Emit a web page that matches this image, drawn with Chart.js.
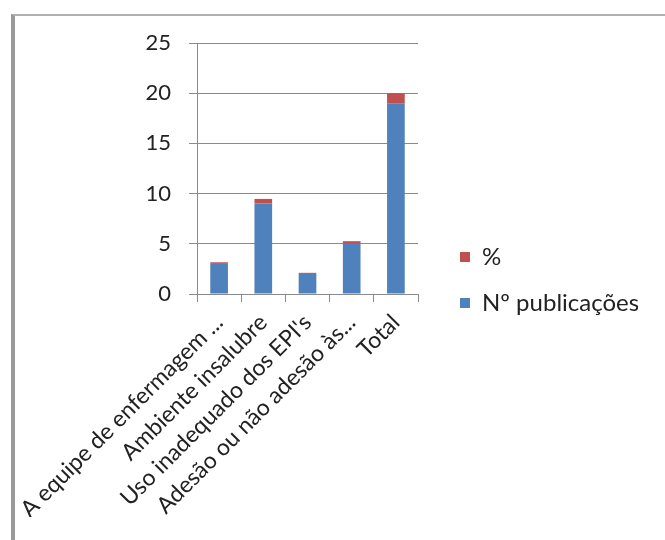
<!DOCTYPE html>
<html>
<head>
<meta charset="utf-8">
<script src="https://cdn.jsdelivr.net/npm/chart.js@4"></script>
<style>
  html, body { margin: 0; padding: 0; background: #fff; }
  #wrap { position: relative; width: 665px; height: 540px; overflow: hidden; }
  #frame {
    position: absolute; left: 11px; top: 14px; right: 0; bottom: 0;
    border-left: 4px solid #9a9a9a; border-top: 2px solid #b0b0b0;
  }
  #grafico { position: absolute; left: 0; top: 0; }
</style>
</head>
<body>
<div id="wrap">
  <div id="frame"></div>
  <canvas id="grafico" width="665" height="540"></canvas>
</div>
<script>
const categorias = [
  "A equipe de enfermagem ...",
  "Ambiente insalubre",
  "Uso inadequado dos EPI's",
  "Adesão ou não adesão às...",
  "Total"
];
const publicacoes = [3, 9, 2, 5, 19];
const percentual = [0.16, 0.47, 0.11, 0.26, 1.0];
const ticksY = [0, 5, 10, 15, 20, 25];

const fonte = "Lato, 'Open Sans', sans-serif";

// a legenda fica um pouco afastada da área do gráfico
const afastaLegenda = {
  id: "afastaLegenda",
  afterLayout(chart) {
    chart.legend.left += 20;
    chart.legend.right += 20;
  }
};

new Chart(document.getElementById("grafico"), {
  type: "bar",
  data: {
    labels: categorias,
    datasets: [
      {
        label: "Nº publicações",
        data: publicacoes,
        backgroundColor: "#4f81bd"
      },
      {
        label: "%",
        data: percentual,
        backgroundColor: "#c0504d"
      }
    ]
  },
  options: {
    responsive: false,
    animation: false,
    devicePixelRatio: 1,
    layout: { padding: { top: 43, right: 47, bottom: 23, left: 0 } },
    datasets: {
      bar: { barPercentage: 0.5, categoryPercentage: 0.8 }
    },
    plugins: {
      tooltip: { enabled: false },
      legend: {
        position: "right",
        reverse: true,
        maxWidth: 200,
        labels: {
          boxWidth: 10,
          boxHeight: 10,
          padding: 22,
          color: "#222",
          font: { family: fonte, size: 24 }
        }
      }
    },
    scales: {
      x: {
        stacked: true,
        afterFit: s => {
          s.height = 223;
          // rótulos inclinados não empurram a área do gráfico
          s.paddingLeft = 0;
          s.paddingRight = 0;
        },
        grid: {
          drawOnChartArea: false,
          drawTicks: true,
          tickLength: 8,
          color: "#8a8a8a"
        },
        border: { color: "#8a8a8a" },
        ticks: {
          minRotation: 45,
          maxRotation: 45,
          autoSkip: false,
          padding: 7,
          color: "#222",
          font: { family: fonte, size: 23 }
        }
      },
      y: {
        stacked: true,
        min: 0,
        max: 25,
        afterFit: s => { s.width = 197; },
        afterBuildTicks: s => { s.ticks = ticksY.map(v => ({ value: v })); },
        grid: { color: "#8a8a8a", tickLength: 8 },
        border: { color: "#8a8a8a" },
        ticks: {
          padding: 18,
          color: "#222",
          font: { family: fonte, size: 22 }
        }
      }
    }
  },
  plugins: [afastaLegenda]
});
</script>
</body>
</html>
